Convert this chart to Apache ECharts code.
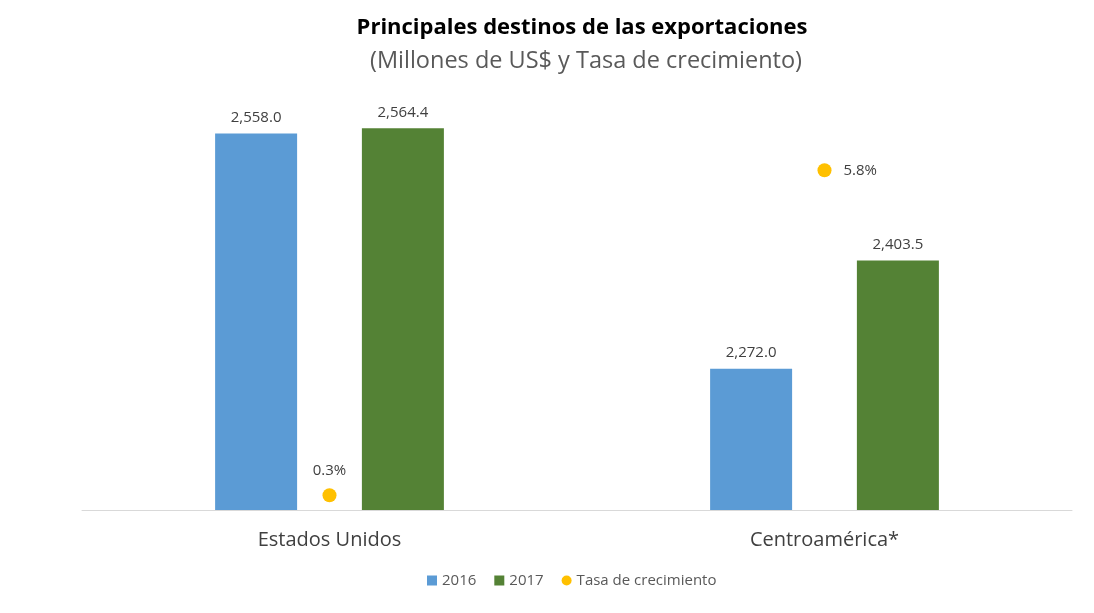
<!DOCTYPE html>
<html>
<head>
<meta charset="utf-8">
<script src="https://cdn.jsdelivr.net/npm/echarts@6/dist/echarts.min.js"></script>
<style>html,body{margin:0;padding:0;background:#fff}#c{width:1094px;height:613px}</style>
</head>
<body>
<div id="c"></div>
<script>
const categories = ['Estados Unidos', 'Centroamérica*'];
const values2016 = [2558.0, 2272.0];
const values2017 = [2564.4, 2403.5];
const growth = [0.3, 5.8];
const seriesNames = ['2016', '2017', 'Tasa de crecimiento'];

const chart = echarts.init(document.getElementById('c'));
const fmtNum = v => v.toLocaleString('en-US', {minimumFractionDigits: 1, maximumFractionDigits: 1});
const FONT = '"Open Sans", "Noto Sans", sans-serif';

chart.setOption({
  animation: false,
  textStyle: {fontFamily: FONT},
  title: [{
    text: 'Principales destinos de las exportaciones',
    left: 577, top: 12, textAlign: 'center',
    textStyle: {fontSize: 22, fontWeight: 'bold', color: '#000', fontFamily: FONT}
  }, {
    text: '(Millones de US$ y Tasa de crecimiento)',
    left: 581, top: 44, textAlign: 'center',
    textStyle: {fontSize: 23.5, fontWeight: 'normal', color: '#595959', fontFamily: FONT}
  }],
  legend: {
    bottom: 20, left: 422,
    itemWidth: 10, itemHeight: 10, itemGap: 18,
    textStyle: {fontSize: 15, color: '#595959', fontFamily: FONT},
    data: [
      {name: seriesNames[0], icon: 'rect'},
      {name: seriesNames[1], icon: 'rect'},
      {name: seriesNames[2], icon: 'circle'}
    ]
  },
  grid: {left: 82, right: 22, top: 58, bottom: 103},
  xAxis: {
    type: 'category', data: categories,
    axisLine: {lineStyle: {color: '#d9d9d9', width: 1}},
    axisTick: {show: false},
    axisLabel: {fontSize: 20, color: '#404040', margin: 20, fontFamily: FONT}
  },
  yAxis: [{
    type: 'value', min: 2100, max: 2650, show: false
  }, {
    type: 'value', min: 0.05, max: 7.7, show: false
  }],
  series: [{
    name: seriesNames[0], type: 'bar', data: values2016,
    barWidth: 82, barGap: '79%',
    itemStyle: {color: '#5b9bd5'},
    label: {show: true, position: 'top', distance: 8, fontSize: 15, color: '#404040',
      formatter: p => fmtNum(p.value)}
  }, {
    name: seriesNames[1], type: 'bar', data: values2017,
    barWidth: 82,
    itemStyle: {color: '#548235'},
    label: {show: true, position: 'top', distance: 8, fontSize: 15, color: '#404040',
      formatter: p => fmtNum(p.value)}
  }, {
    name: seriesNames[2], type: 'scatter', yAxisIndex: 1,
    data: growth.map((g, i) => ({
      value: g,
      label: {position: i === 0 ? 'top' : 'right', distance: i === 0 ? 10 : 12, color: '#404040'}
    })),
    symbolSize: 14,
    itemStyle: {color: '#ffc000', opacity: 1},
    label: {show: true, fontSize: 15, color: '#404040', formatter: p => p.value.toFixed(1) + '%'}
  }]
});
</script>
</body>
</html>
